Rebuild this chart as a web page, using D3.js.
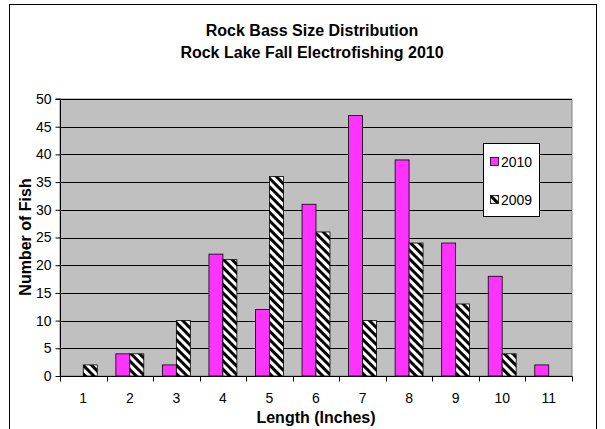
<!DOCTYPE html>
<html><head><meta charset="utf-8">
<script src="https://cdn.jsdelivr.net/npm/d3@7"></script>
<style>body{margin:0;background:#fff}svg{display:block}text{font-family:"Liberation Sans",Arial,sans-serif}</style>
</head><body>
<script>
const categories = ["1","2","3","4","5","6","7","8","9","10","11"];
const series2010 = [0,4,2,22,12,31,47,39,24,18,2];
const series2009 = [2,4,10,21,36,26,10,24,13,4,0];
const yTicks = [0,5,10,15,20,25,30,35,40,45,50];
const seriesNames = ["2010","2009"];

const W=605,H=429;
const svg=d3.select("body").append("svg").attr("width",W).attr("height",H);
const defs=svg.append("defs");
const pat=defs.append("pattern").attr("id","hatch").attr("patternUnits","userSpaceOnUse")
  .attr("width",6).attr("height",6).attr("patternTransform","rotate(45)");
pat.append("rect").attr("width",6).attr("height",6).attr("fill","#fff");
pat.append("rect").attr("width",6).attr("height",3).attr("fill","#000");

// outer frame
svg.append("rect").attr("x",9.5).attr("y",4.5).attr("width",587).attr("height",440)
  .attr("fill","#fff").attr("stroke","#000").attr("stroke-width",1);

const m={l:60,t:99,r:572,b:376};
const x=d3.scaleBand().domain(categories).range([m.l,m.r]).paddingInner(0).paddingOuter(0);
const y=d3.scaleLinear().domain([0,50]).range([m.b,m.t]);

svg.append("rect").attr("x",m.l).attr("y",m.t).attr("width",m.r-m.l).attr("height",m.b-m.t)
  .attr("fill","#c0c0c0").attr("stroke","#808080").attr("stroke-width",1);

// gridlines
svg.append("g").selectAll("line").data(yTicks.filter(d=>d>0)).join("line")
  .attr("x1",m.l).attr("x2",m.r).attr("y1",d=>Math.round(y(d))+0.5).attr("y2",d=>Math.round(y(d))+0.5)
  .attr("stroke","#000").attr("stroke-width",1);

const bw=x.bandwidth()*0.3;
const g=svg.append("g");
g.selectAll(".b10").data(categories).join("rect")
  .attr("x",(d)=>x(d)+x.bandwidth()/2-bw).attr("width",bw)
  .attr("y",(d,i)=>y(series2010[i])).attr("height",(d,i)=>y(0)-y(series2010[i]))
  .attr("fill","#ff33ff").attr("stroke","#000").attr("stroke-width",0.8)
  .attr("display",(d,i)=>series2010[i]>0?null:"none");
g.selectAll(".b09").data(categories).join("rect")
  .attr("x",(d)=>x(d)+x.bandwidth()/2).attr("width",bw)
  .attr("y",(d,i)=>y(series2009[i])).attr("height",(d,i)=>y(0)-y(series2009[i]))
  .attr("fill","url(#hatch)").attr("stroke","#000").attr("stroke-width",0.8)
  .attr("display",(d,i)=>series2009[i]>0?null:"none");

// y axis
const ya=svg.append("g").attr("transform",`translate(${m.l+0.5},0)`)
  .call(d3.axisLeft(y).tickValues(yTicks).tickSize(5).tickPadding(4));
ya.selectAll("text").attr("font-size",14).attr("fill","#000");
ya.selectAll("line,path").attr("stroke","#000");
ya.select("path").attr("d",`M-5,${m.t}H0V${m.b}`);

// x axis
const xa=svg.append("g").attr("transform",`translate(0,${m.b+0.5})`);
xa.append("line").attr("x1",m.l).attr("x2",m.r+0.5).attr("stroke","#000");
const bounds=categories.map(c=>x(c)).concat([m.r]);
xa.selectAll(".t").data(bounds).join("line").attr("x1",d=>Math.round(d)+0.5).attr("x2",d=>Math.round(d)+0.5)
  .attr("y1",0).attr("y2",5).attr("stroke","#000");
xa.selectAll("text").data(categories).join("text")
  .attr("x",d=>x(d)+x.bandwidth()/2).attr("y",26).attr("text-anchor","middle")
  .attr("font-size",14).text(d=>d);

// titles
svg.append("text").attr("x",312).attr("y",36).attr("text-anchor","middle").attr("font-size",16).attr("font-weight","bold").text("Rock Bass Size Distribution");
svg.append("text").attr("x",312).attr("y",58).attr("text-anchor","middle").attr("font-size",16).attr("font-weight","bold").text("Rock Lake Fall Electrofishing 2010");
svg.append("text").attr("x",316).attr("y",423).attr("text-anchor","middle").attr("font-size",16).attr("font-weight","bold").text("Length (Inches)");
svg.append("text").attr("transform","translate(31,237) rotate(-90)").attr("text-anchor","middle").attr("font-size",16).attr("font-weight","bold").text("Number of Fish");

// legend
const lg=svg.append("g");
lg.append("rect").attr("x",483.5).attr("y",143.5).attr("width",56).attr("height",73).attr("fill","#fff").attr("stroke","#000");
const ly=[162,200];
const fills=["#ff33ff","url(#hatch)"];
seriesNames.forEach((s,i)=>{
  lg.append("rect").attr("x",490.5).attr("y",ly[i]-4.5).attr("width",8).attr("height",8).attr("fill",fills[i]).attr("stroke","#000").attr("stroke-width",0.8);
  lg.append("text").attr("x",501).attr("y",ly[i]+5).attr("font-size",14).text(s);
});
</script>
</body></html>
